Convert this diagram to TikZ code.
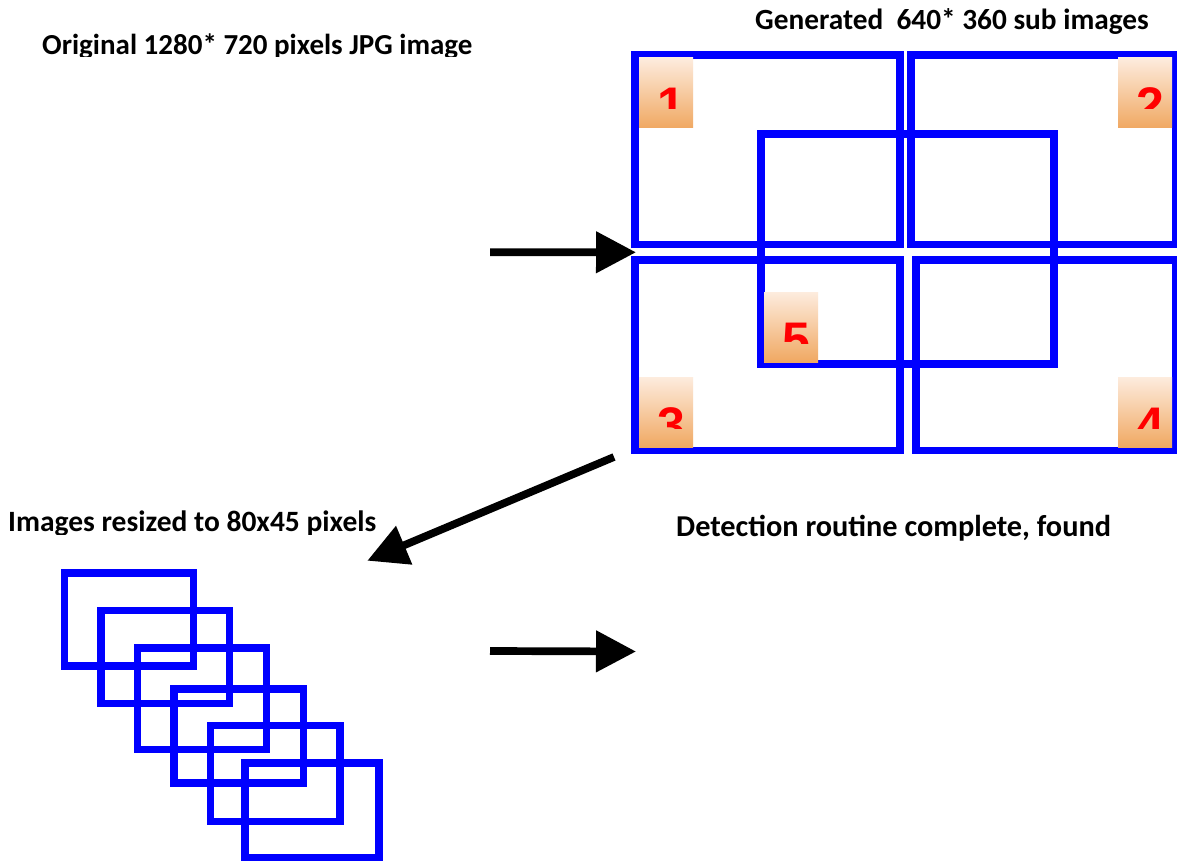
\documentclass[tikz,border=0pt]{standalone}
\usepackage{fontspec}
\setmainfont{Carlito}
\newfontfamily\digitfont{Liberation Sans}
\usetikzlibrary{arrows.meta}
\definecolor{peachtop}{RGB}{253,236,222}
\definecolor{peachbot}{RGB}{240,168,98}
\definecolor{boxblue}{RGB}{0,0,255}
\tikzset{
  blueframe/.style={draw=boxblue, line width=7.5pt, line join=miter},
  captiontext/.style={font=\fontsize{#1}{34}\selectfont\bfseries, inner sep=0pt, anchor=base west},
  tagdigit/.style={font=\digitfont\fontsize{50}{60}\selectfont\bfseries, text=red, inner sep=0pt, anchor=base},
  bigarrow/.style={draw=black, line width=7.7pt, -{Triangle[length=40pt,width=40pt]}},
}
\newcommand\tagbox[4]{%
  \fill[top color=peachtop, bottom color=peachbot] (#2,#3) rectangle ++(54,70);
  \begin{scope}
    \clip (#2,#3) rectangle ++(54,51);
    \node[tagdigit] (#1) at ({#2+32},{#3+65}) {#4};
  \end{scope}}
\begin{document}
\begin{tikzpicture}[x=1pt,y=-1pt]
\useasboundingbox (0,0) rectangle (1177,861);
\fill[white] (0,0) rectangle (1177,861);

% captions (clipped just below the baseline)
\begin{scope}
  \clip (0,0) rectangle (600,57);
  \node[captiontext=29] (orig) at (42,54.5) {Original 1280* 720 pixels JPG image};
\end{scope}
\begin{scope}
  \clip (700,0) rectangle (1177,36);
  \node[captiontext=29.3] (gen) at (755,30) {Generated\ \ 640* 360 sub images};
\end{scope}
\begin{scope}
  \clip (0,490) rectangle (420,534);
  \node[captiontext=29.5] (resz) at (8,531) {Images resized to 80x45 pixels};
\end{scope}
\begin{scope}
  \clip (640,500) rectangle (1177,540);
  \node[captiontext=30.3] (det) at (676,536.7) {Detection routine complete, found};
\end{scope}

% sub images
\draw[blueframe] (635,55) rectangle (900,244.5);
\draw[blueframe] (911,55) rectangle (1176,244.5);
\draw[blueframe] (635,260) rectangle (900,450.5);
\draw[blueframe] (916,260) rectangle (1176,450.5);
\draw[blueframe] (761,134) rectangle (1054,364);

\tagbox{n1}{639}{58}{1}
\tagbox{n2}{1118}{58}{2}
\tagbox{n3}{639}{377}{3}
\tagbox{n4}{1118}{377}{4}
\tagbox{n5}{764}{292}{5}

% resized images
\draw[blueframe] (64.5,573) rectangle (193.3,666);
\draw[blueframe] (101,610.3) rectangle (229.5,703.3);
\draw[blueframe] (137.3,647.8) rectangle (266.7,749.5);
\draw[blueframe] (174,688.8) rectangle (303.3,783);
\draw[blueframe] (210.5,725.5) rectangle (340,821.3);
\draw[blueframe] (244.8,763) rectangle (379.2,858);

% arrows
\coordinate (a1s) at (490,252.2);
\coordinate (a1e) at (636,252.3);
\coordinate (a2s) at (614,457);
\coordinate (a2e) at (367.3,560.7);
\coordinate (a3s) at (490,651);
\coordinate (a3e) at (636,651.5);
\draw[bigarrow] (a1s) -- (a1e);
\draw[bigarrow] (a2s) -- (a2e);
\draw[bigarrow] (a3s) -- (a3e);
\end{tikzpicture}
\end{document}
